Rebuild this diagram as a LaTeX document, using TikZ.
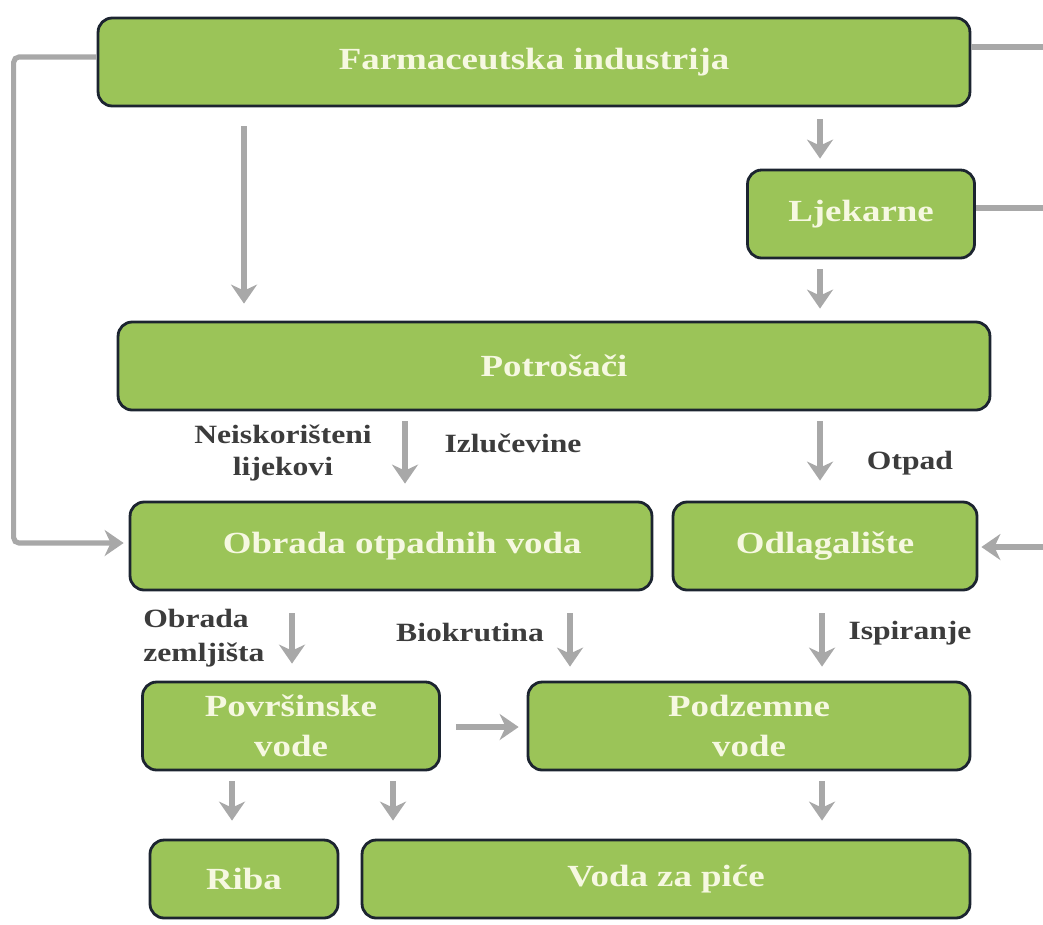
\documentclass[tikz,border=0pt]{standalone}
\usepackage{fontspec}
\setmainfont{Liberation Serif}[FakeStretch=1.2]
\usepackage{tikz}
\usetikzlibrary{positioning,arrows.meta,calc}
\definecolor{boxgreen}{RGB}{155,196,88}
\definecolor{boxline}{RGB}{28,36,48}
\definecolor{boxtext}{RGB}{246,248,225}
\definecolor{argray}{RGB}{168,168,168}
\definecolor{lbltext}{RGB}{60,60,60}

\begin{document}
\begin{tikzpicture}[
  x=0.02cm,y=-0.02cm,
  box/.style={draw=boxline,line width=1.6pt,rounded corners=8pt,fill=boxgreen,minimum height=1.76cm,
    align=center,text=boxtext,font=\fontsize{17.5}{22.5}\selectfont\bfseries,inner sep=0pt},
  lbl/.style={text=lbltext,font=\fontsize{15}{18}\selectfont\bfseries,align=center,inner sep=0pt},
  ar/.style={-{Stealth[length=3.8mm,width=5.2mm,inset=1.2mm]},argray,line width=2.9pt},
  ln/.style={argray,line width=2.9pt},
]
\useasboundingbox (0,0) rectangle (1043,924);
\coordinate (rim) at (1050,0);
% boxes
\node[box,minimum width=17.44cm] (farm) at (534,62) {Farmaceutska industrija};
\node[box,minimum width=4.54cm] (ljek) at (861,214) {Ljekarne};
\node[box,minimum width=17.44cm] (potr) at (554,366) {Potrošači};
\node[box,minimum width=10.44cm] (obrada) at (391,546) {\hspace*{0.45cm}Obrada otpadnih voda};
\node[box,minimum width=6.08cm] (odlag) at (825,546) {Odlagalište};
\node[box,minimum width=5.94cm] (povr) at (291,726) {Površinske\\vode};
\node[box,minimum width=8.84cm] (podz) at (749,726) {Podzemne\\vode};
\node[box,minimum width=3.76cm,minimum height=1.56cm] (riba) at (244,879) {Riba};
\node[box,minimum width=12.16cm,minimum height=1.56cm] (voda) at (666,879) {Voda za piće};
% labels
\node[lbl] (neisk) at (283,453) {Neiskorišteni\\lijekovi};
\node[lbl] (izluc) at (513,443) {Izlučevine};
\node[lbl] (otpad) at (910,463) {Otpad};
\node[lbl,align=left,anchor=west,font=\fontsize{15}{19}\selectfont\bfseries] (obrzem) at (143,638) {Obrada\\zemljišta};
\node[lbl] (biokr) at (470,633) {Biokrutina};
\node[lbl] (ispir) at (910,633) {Ispiranje};
% side lines
\coordinate (farmout) at ($(farm.east)+(0,-15)$);
\coordinate (ljekout) at ($(ljek.east)+(0,-6)$);
\coordinate (odlagin) at ($(odlag.east)+(3,1)$);
% arrows
\draw[ar] ($(farm.south)+(-290,19)$) -- ($(potr.north)+(-310,-17)$);
\draw[ar] ($(farm.south)+(286,12)$) -- ($(ljek.north)+(-41,-10)$);
\draw[ar] ($(ljek.south)+(-41,10)$) -- ($(potr.north)+(266,-12)$);
\draw[ar] ($(potr.south)+(-149,10)$) -- ($(obrada.north)+(14,-17)$);
\draw[ar] ($(potr.south)+(266,10)$) -- ($(odlag.north)+(-5,-20)$);
\draw[ar] ($(obrada.south)+(-99,22)$) -- ($(povr.north)+(1,-17)$);
\draw[ar] ($(obrada.south)+(179,22)$) -- ($(podz.north)+(-179,-14)$);
\draw[ar] ($(odlag.south)+(-3,22)$) -- ($(podz.north)+(73,-14)$);
\draw[ar] ($(povr.east)+(15,1)$) -- ($(podz.west)+(-8,1)$);
\draw[ar] ($(povr.south)+(-59,10)$) -- ($(riba.north)+(-12,-18)$);
\draw[ar] ($(povr.south)+(102,10)$) -- ($(voda.north)+(-273,-18)$);
\draw[ar] ($(podz.south)+(73,10)$) -- ($(voda.north)+(156,-18)$);
\draw[ar,rounded corners=3pt] ($(farm.west)+(0,-5)$) -- ++(-83,0) |- ($(obrada.west)+(-5,-3)$);
\draw[ln] (farmout) -- (farmout -| rim);
\draw[ln] (ljekout) -- (ljekout -| rim);
\draw[ar] (odlagin -| rim) -- (odlagin);
\end{tikzpicture}
\end{document}
